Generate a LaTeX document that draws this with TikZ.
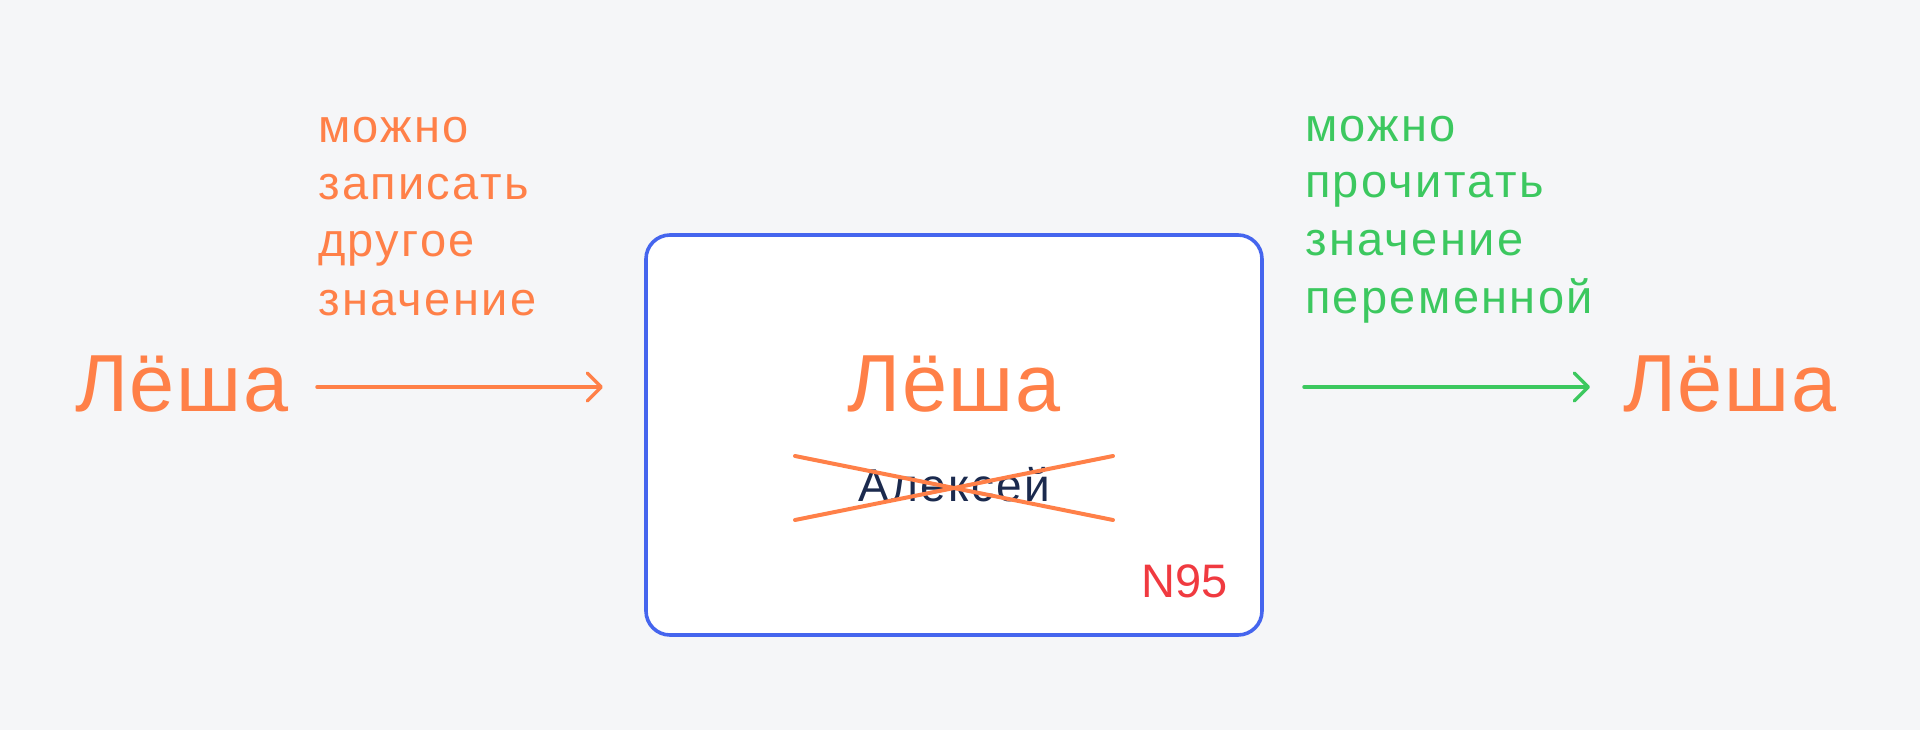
\documentclass[tikz,border=0pt]{standalone}
\usepackage{fontspec}
\setmainfont{Liberation Sans}
\newfontfamily\lsbig[LetterSpace=2]{Liberation Sans}
\newfontfamily\lssmall[LetterSpace=5]{Liberation Sans}
\newfontfamily\lsmid[LetterSpace=5]{Liberation Sans}
\usetikzlibrary{arrows.meta}
\definecolor{bg}{HTML}{F5F6F8}
\definecolor{orng}{HTML}{FF8048}
\definecolor{grn}{HTML}{3CC85F}
\definecolor{blu}{HTML}{4565EE}
\definecolor{navy}{HTML}{1B2A4E}
\definecolor{redd}{HTML}{F03A40}
\tikzset{
  bigtxt/.style={inner sep=0pt, text=orng, font=\lsbig\fontsize{81}{81}\selectfont},
  lbl/.style={inner sep=0pt, anchor=base west, font=\lssmall\fontsize{47}{47}\selectfont},
  oldtxt/.style={inner sep=0pt, text=navy, font=\lsmid\fontsize{46}{46}\selectfont},
  numtxt/.style={inner sep=0pt, text=redd, font=\fontsize{47}{47}\selectfont},
  cardbox/.style={draw=blu, line width=3.6pt, fill=white, rounded corners=24pt, inner sep=0pt},
  conn/.style={line width=3.5pt, line cap=round, -{Straight Barb[length=14pt,width=28pt,round]}},
  crossline/.style={draw=orng, line width=4pt, line cap=round}
}
\begin{document}
\begin{tikzpicture}[x=1pt,y=-1pt]
\fill[bg] (0,0) rectangle (1920,730);
\useasboundingbox (0,0) rectangle (1920,730);
\node[cardbox, minimum width=616pt, minimum height=400pt] (card) at (954,435) {};
\node[bigtxt, anchor=base west] (lesha1) at (75,411) {Лёша};
\node[bigtxt, anchor=base] (lesha2) at (954,411) {Лёша};
\node[bigtxt, anchor=base west] (lesha3) at (1623,411) {Лёша};
\node[oldtxt, anchor=base] (old) at (954,501) {Алексей};
\node[numtxt, anchor=base east] (num) at (1228,597) {N95};
% left labels
\node[lbl, text=orng] (l1) at (318,143) {можно};
\node[lbl, text=orng] (l2) at (318,200) {записать};
\node[lbl, text=orng] (l3) at (318,257) {другое};
\node[lbl, text=orng] (l4) at (318,315) {значение};
% right labels
\node[lbl, text=grn] (r1) at (1305,142) {можно};
\node[lbl, text=grn] (r2) at (1305,198) {прочитать};
\node[lbl, text=grn] (r3) at (1305,256) {значение};
\node[lbl, text=grn] (r4) at (1305,313) {переменной};
% arrows
\coordinate (a1s) at (317,387);
\coordinate (a1e) at (603,387);
\coordinate (a2s) at (1304,387);
\coordinate (a2e) at (1590,387);
\draw[conn, draw=orng] (a1s) -- (a1e);
\draw[conn, draw=grn] (a2s) -- (a2e);
% cross
\coordinate (c1) at (795,456);
\coordinate (c2) at (1113,520);
\coordinate (c3) at (795,520);
\coordinate (c4) at (1113,456);
\draw[crossline] (c1) -- (c2);
\draw[crossline] (c3) -- (c4);
\end{tikzpicture}
\end{document}
